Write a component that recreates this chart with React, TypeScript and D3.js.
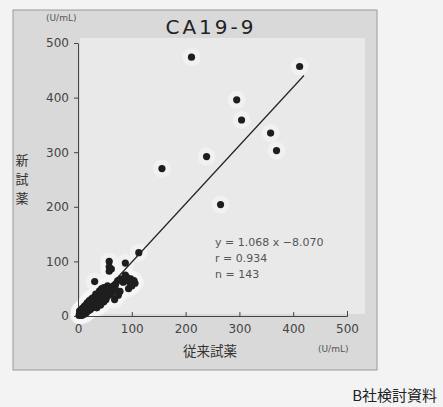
import * as d3 from 'd3';
import { useEffect, useRef } from 'react';

// 従来試薬 (x) と 新試薬 (y) の測定値 [U/mL]
const conventional = [
  2, 3, 4, 5, 5, 6, 7, 8, 8, 9, 10, 10, 11, 12, 12, 13, 14, 15, 15, 16,
  17, 18, 18, 19, 20, 20, 21, 22, 22, 23, 24, 25, 25, 26, 27, 28, 28, 29, 30, 30,
  31, 32, 33, 34, 35, 35, 36, 37, 38, 38, 39, 40, 40, 41, 42, 43, 44, 45, 45, 46,
  47, 48, 48, 50, 50, 52, 53, 55, 56, 58, 3, 6, 9, 12, 15, 18, 21, 24, 27, 30,
  33, 36, 40, 44, 48, 52, 10, 14, 20, 26, 32, 38, 44, 50, 8, 16, 24, 35, 42, 55,
  4, 7, 11, 17,
  113, 88, 58, 58, 58, 62, 94, 104, 106, 88, 92, 80, 74, 75, 70, 66, 84, 98, 100, 96,
  78, 70, 62, 31, 54, 60, 50, 68,
  211, 412, 295, 304, 358, 369, 239, 156, 265,
];
const newReagent = [
  1, 4, 2, 6, 3, 8, 4, 9, 5, 12, 7, 11, 9, 14, 6, 10, 16, 12, 8, 18,
  13, 15, 21, 10, 17, 24, 14, 19, 26, 12, 22, 18, 28, 15, 24, 20, 31, 16, 26, 34,
  21, 28, 18, 30, 24, 38, 20, 33, 27, 42, 22, 36, 30, 25, 40, 32, 28, 42, 35, 30,
  44, 38, 26, 45, 32, 40, 48, 36, 50, 42, 9, 2, 4, 18, 20, 9, 28, 14, 33, 18,
  40, 28, 46, 36, 52, 30, 15, 5, 10, 32, 22, 34, 50, 40, 14, 7, 30, 15, 20, 55,
  10, 1, 3, 24,
  116, 97, 100, 90, 82, 86, 50, 65, 60, 75, 70, 68, 65, 38, 58, 55, 62, 68, 55, 62,
  45, 48, 40, 63, 45, 50, 35, 30,
  474, 457, 396, 359, 335, 303, 292, 270, 204,
];
const xTicks = [0, 100, 200, 300, 400, 500];
const yTicks = [0, 100, 200, 300, 400, 500];
const stats = ['y = 1.068 x −8.070', 'r = 0.934', 'n = 143'];
const slope = 1.068;
const intercept = -8.07;

export default function App() {
  const ref = useRef<HTMLDivElement>(null);

  useEffect(() => {
    if (!ref.current) return;
    const width = 443;
    const height = 407;
    const latin = '"DejaVu Sans", sans-serif';
    const jp = '"Noto Sans CJK JP", sans-serif';

    const x = d3.scaleLinear().domain([0, 500]).range([78, 347]);
    const y = d3.scaleLinear().domain([0, 500]).range([316, 43]);

    const svg = d3
      .create('svg')
      .attr('width', width)
      .attr('height', height)
      .style('position', 'absolute')
      .style('left', 0)
      .style('top', 0)
      .style('font-family', latin);

    // 背景
    svg.append('rect').attr('width', width).attr('height', height).attr('fill', '#f3f3f3');
    svg
      .append('rect')
      .attr('x', 13)
      .attr('y', 10)
      .attr('width', 364)
      .attr('height', 360)
      .attr('fill', '#d9d9d9')
      .attr('stroke', '#9a9a9a')
      .attr('stroke-width', 1);
    svg
      .append('rect')
      .attr('x', 80)
      .attr('y', 38)
      .attr('width', 285)
      .attr('height', 276)
      .attr('fill', '#e9e9e9');

    // 点の周りの白い滲み
    const pts = conventional.map((v, i) => [v, newReagent[i]] as [number, number]);
    svg
      .append('g')
      .selectAll('circle')
      .data(pts)
      .join('circle')
      .attr('cx', (d) => x(d[0]))
      .attr('cy', (d) => y(d[1]))
      .attr('r', 9)
      .attr('fill', '#f6f6f6')
      .attr('opacity', 0.6);

    // x軸
    svg
      .append('g')
      .attr('transform', `translate(0,${y(0)})`)
      .call(d3.axisBottom(x).tickValues(xTicks).tickSizeInner(-4).tickSizeOuter(-5).tickPadding(8).tickFormat(d3.format('d')))
      .call((g) => g.selectAll('path,line').attr('stroke', '#444'))
      .call((g) => g.selectAll('text').attr('font-size', 12).attr('fill', '#444').attr('font-family', latin));

    // y軸
    svg
      .append('g')
      .attr('transform', `translate(${x(0)},0)`)
      .call(d3.axisLeft(y).tickValues(yTicks).tickSizeInner(4).tickSizeOuter(0).tickPadding(5).tickFormat(d3.format('d')))
      .call((g) => g.selectAll('path,line').attr('stroke', '#444'))
      .call((g) => g.selectAll('text').attr('font-size', 12).attr('fill', '#444').attr('font-family', latin));

    // 回帰直線
    const line = d3
      .line<number>()
      .x((d) => x(d))
      .y((d) => y(slope * d + intercept));
    svg
      .append('path')
      .datum([8, 420])
      .attr('d', line)
      .attr('fill', 'none')
      .attr('stroke', '#222')
      .attr('stroke-width', 1.2);

    // 点
    svg
      .append('g')
      .selectAll('circle')
      .data(pts)
      .join('circle')
      .attr('cx', (d) => x(d[0]))
      .attr('cy', (d) => y(d[1]))
      .attr('r', 3.6)
      .attr('fill', '#1e1e1e');

    // テキスト
    svg
      .append('text')
      .attr('x', 211)
      .attr('y', 34)
      .attr('text-anchor', 'middle')
      .attr('font-size', 20)
      .attr('letter-spacing', 3)
      .attr('fill', '#222')
      .text('CA19-9');
    svg
      .append('text')
      .attr('x', 46)
      .attr('y', 21)
      .attr('font-size', 9)
      .attr('fill', '#555')
      .text('(U/mL)');
    svg
      .append('text')
      .attr('x', 318)
      .attr('y', 352)
      .attr('font-size', 9)
      .attr('fill', '#555')
      .text('(U/mL)');
    svg
      .append('text')
      .attr('x', 210)
      .attr('y', 356)
      .attr('text-anchor', 'middle')
      .attr('font-size', 13.5)
      .attr('font-family', jp)
      .attr('fill', '#333')
      .text('従来試薬');
    svg
      .append('g')
      .selectAll('text')
      .data(['新', '試', '薬'])
      .join('text')
      .attr('x', 22)
      .attr('y', (_, i) => 165 + i * 19)
      .attr('text-anchor', 'middle')
      .attr('font-size', 13)
      .attr('font-family', jp)
      .attr('fill', '#333')
      .text((d) => d);
    svg
      .append('g')
      .selectAll('text')
      .data(stats)
      .join('text')
      .attr('x', 215)
      .attr('y', (_, i) => 246 + i * 16)
      .attr('font-size', 11)
      .attr('fill', '#555')
      .text((d) => d);
    svg
      .append('text')
      .attr('x', 437)
      .attr('y', 401)
      .attr('text-anchor', 'end')
      .attr('font-size', 15)
      .attr('font-family', jp)
      .attr('fill', '#222')
      .text('B社検討資料');

    ref.current.innerHTML = '';
    ref.current.appendChild(svg.node()!);
  }, []);

  return <div ref={ref} />;
}
